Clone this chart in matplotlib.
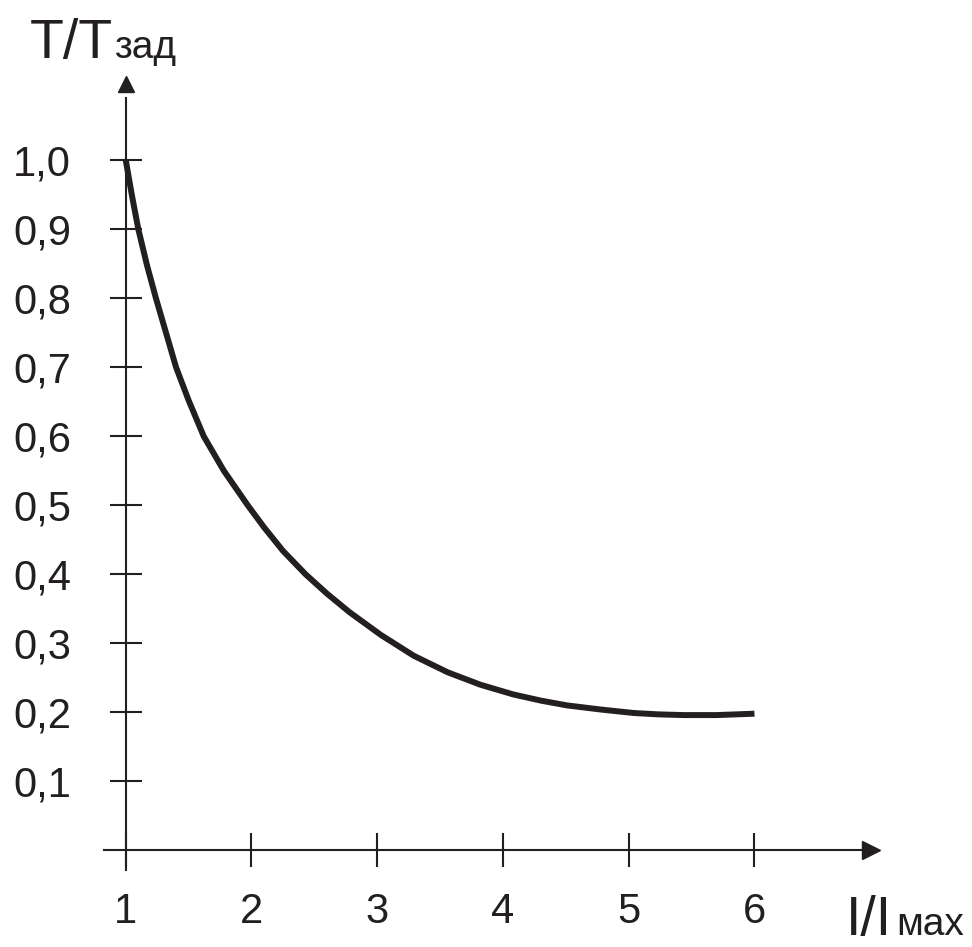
import matplotlib
matplotlib.use('Agg')
import matplotlib.pyplot as plt

# Кривая T/Tзад в зависимости от I/Imax
i_ratio = [1.00, 1.05, 1.10, 1.17, 1.24, 1.32, 1.40, 1.50, 1.62, 1.78, 1.97, 2.10,
           2.25, 2.43, 2.60, 2.78, 3.03, 3.29, 3.56, 3.82, 4.08, 4.30, 4.51, 4.78,
           5.04, 5.24, 5.44, 5.70, 6.00]
t_ratio = [1.000, 0.948, 0.900, 0.847, 0.800, 0.750, 0.700, 0.652, 0.600, 0.550, 0.500, 0.468,
           0.434, 0.400, 0.372, 0.345, 0.312, 0.282, 0.258, 0.240, 0.226, 0.217, 0.210, 0.204,
           0.199, 0.197, 0.196, 0.196, 0.198]

x_ticks = [1, 2, 3, 4, 5, 6]
x_labels = ['1', '2', '3', '4', '5', '6']
y_ticks = [0.1, 0.2, 0.3, 0.4, 0.5, 0.6, 0.7, 0.8, 0.9, 1.0]
y_labels = ['0,1', '0,2', '0,3', '0,4', '0,5', '0,6', '0,7', '0,8', '0,9', '1,0']

ink = '#231f20'
plt.rcParams['font.family'] = ['Liberation Sans', 'DejaVu Sans']

fig = plt.figure(figsize=(9.72, 9.47), dpi=100)
ax = fig.add_axes([0, 0, 1, 1])
ax.set_xlim(0.0, 7.73)
ax.set_ylim(-0.14, 1.232)

ax.plot(i_ratio, t_ratio, color=ink, linewidth=4.3, solid_capstyle='butt',
        solid_joinstyle='round')

# Оси со стрелками
for s in ['top', 'right']:
    ax.spines[s].set_visible(False)
ax.spines['bottom'].set_position(('data', 0))
ax.spines['left'].set_position(('data', 1))
ax.spines['bottom'].set_bounds(0.825, 6.87)
ax.spines['left'].set_bounds(-0.029, 1.09)
for s in ['bottom', 'left']:
    ax.spines[s].set_color(ink)
    ax.spines[s].set_linewidth(1.5)
ax.plot(6.93, 0, marker='>', markersize=13, color=ink, clip_on=False)
ax.plot(1, 1.11, marker='^', markersize=12, color=ink, clip_on=False)

ax.set_xticks(x_ticks)
ax.set_xticklabels(x_labels)
ax.set_yticks(y_ticks)
ax.set_yticklabels(y_labels)
ax.tick_params(axis='x', direction='inout', length=24, width=1.5, color=ink,
               labelsize=30, labelcolor=ink, pad=18)
ax.tick_params(axis='y', direction='inout', length=23, width=1.5, color=ink,
               labelsize=30, labelcolor=ink, pad=28)

# Подписи осей
fig.text(30 / 972, 1 - 58 / 947, 'T/T', fontsize=40, color=ink,
         ha='left', va='baseline')
fig.text(114 / 972, 1 - 58 / 947, 'зад', fontsize=28, color=ink,
         ha='left', va='baseline')
fig.text(846 / 972, 1 - 935 / 947, 'I/I', fontsize=40, color=ink,
         ha='left', va='baseline')
fig.text(896 / 972, 1 - 935 / 947, 'мах', fontsize=28, color=ink,
         ha='left', va='baseline')

fig.savefig('out.png', dpi=100)
